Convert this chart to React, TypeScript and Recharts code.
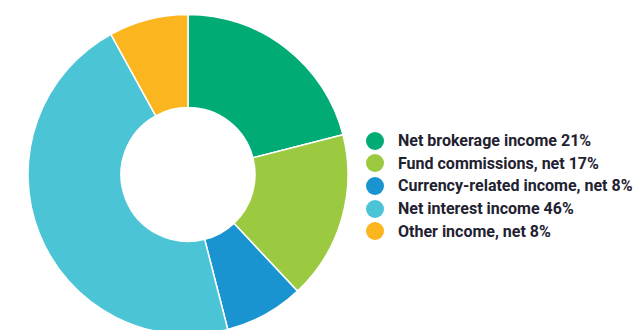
import { PieChart, Pie, Cell } from 'recharts';

const categories = [
  'Net brokerage income',
  'Fund commissions, net',
  'Currency-related income, net',
  'Net interest income',
  'Other income, net',
];
const shares = [21, 17, 8, 46, 8];
const colors = ['#00AB76', '#9BC93F', '#1A93D1', '#4BC4D6', '#FBB51E'];

const data = categories.map((name, i) => ({ name, value: shares[i] }));

const LegendList = () => (
  <div
    style={{
      position: 'absolute',
      left: 366,
      top: 129.5,
      width: 270,
      fontFamily: 'Roboto, sans-serif',
      fontWeight: 700,
      fontSize: 16,
      color: '#1f2230',
    }}
  >
    {data.map((d, i) => (
      <div key={d.name} style={{ display: 'flex', alignItems: 'center', height: 22.6, whiteSpace: 'nowrap' }}>
        <span
          style={{
            width: 18,
            height: 18,
            borderRadius: '50%',
            background: colors[i],
            display: 'inline-block',
            marginRight: 14,
            flexShrink: 0,
          }}
        />
        <span>{`${d.name} ${d.value}%`}</span>
      </div>
    ))}
  </div>
);

export default function App() {
  return (
    <div style={{ position: 'absolute', left: 0, top: 0, width: 636, height: 330, overflow: 'hidden', background: '#fff' }}>
      <PieChart width={636} height={330} margin={{ top: 0, right: 0, bottom: 0, left: 0 }}>
        <Pie
          data={data}
          dataKey="value"
          nameKey="name"
          cx={188}
          cy={174.5}
          innerRadius={67}
          outerRadius={160}
          startAngle={90}
          endAngle={-270}
          stroke="#fff"
          strokeWidth={1.5}
          isAnimationActive={false}
        >
          {data.map((d, i) => (
            <Cell key={d.name} fill={colors[i]} />
          ))}
        </Pie>
      </PieChart>
      <LegendList />
    </div>
  );
}
